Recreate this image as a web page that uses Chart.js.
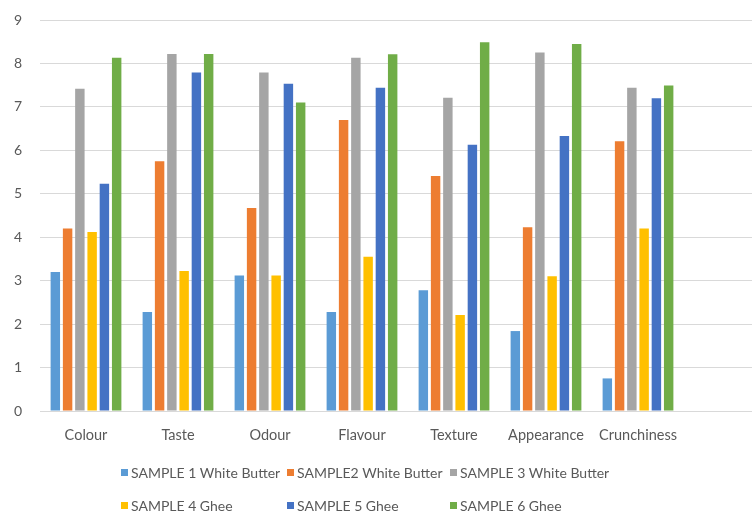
<!DOCTYPE html>
<html>
<head>
<meta charset="utf-8">
<script src="https://cdn.jsdelivr.net/npm/chart.js@4.4.0/dist/chart.umd.min.js"></script>
<style>
  html, body { margin: 0; padding: 0; background: #fff; overflow: hidden; }
  #wrap { width: 780px; height: 516px; }
</style>
</head>
<body>
<div id="wrap"><canvas id="chart"></canvas></div>
<script>
const categories = ['Colour', 'Taste', 'Odour', 'Flavour', 'Texture', 'Appearance', 'Crunchiness', ''];
const seriesNames = [
  'SAMPLE 1 White Butter', 'SAMPLE2 White Butter', 'SAMPLE 3 White Butter',
  'SAMPLE 4 Ghee', 'SAMPLE 5 Ghee', 'SAMPLE 6 Ghee'
];
const sample1 = [3.2, 2.28, 3.12, 2.28, 2.78, 1.84, 0.75];
const sample2 = [4.2, 5.75, 4.67, 6.7, 5.41, 4.23, 6.21];
const sample3 = [7.42, 8.22, 7.79, 8.13, 7.21, 8.25, 7.44];
const sample4 = [4.12, 3.22, 3.12, 3.55, 2.21, 3.1, 4.2];
const sample5 = [5.23, 7.79, 7.53, 7.44, 6.13, 6.33, 7.2];
const sample6 = [8.13, 8.22, 7.1, 8.21, 8.49, 8.45, 7.49];
const yTicks = [0, 1, 2, 3, 4, 5, 6, 7, 8, 9];

const colors = ['#5B9BD5', '#ED7D31', '#A5A5A5', '#FFC000', '#4472C4', '#70AD47'];
const values = [sample1, sample2, sample3, sample4, sample5, sample6];

const textColor = '#595959';
const fontFamily = 'Lato, "Noto Sans", sans-serif';

// legend drawn as a 3 x 2 grid like the Excel original
const gridLegend = {
  id: 'gridLegend',
  afterDraw(chart) {
    const ctx = chart.ctx;
    const colX = [121, 287, 450];
    const rowY = [473, 506];
    ctx.save();
    ctx.font = '14px ' + fontFamily;
    ctx.textBaseline = 'middle';
    ctx.textAlign = 'left';
    chart.data.datasets.forEach((ds, i) => {
      const x = colX[i % 3];
      const y = rowY[Math.floor(i / 3)];
      ctx.fillStyle = ds.backgroundColor;
      ctx.fillRect(x, y - 4, 7, 7);
      ctx.fillStyle = textColor;
      ctx.fillText(ds.label, x + 10, y);
    });
    ctx.restore();
  }
};

const datasets = seriesNames.map((name, i) => ({
  label: name,
  data: values[i],
  backgroundColor: colors[i],
  borderWidth: 0,
  barPercentage: 0.77,
  categoryPercentage: 0.8
}));

new Chart(document.getElementById('chart'), {
  type: 'bar',
  data: { labels: categories, datasets: datasets },
  options: {
    responsive: true,
    maintainAspectRatio: false,
    animation: false,
    layout: { padding: { left: 0, right: 4, top: 20, bottom: 0 } },
    plugins: {
      legend: { display: false },
      tooltip: { enabled: false }
    },
    scales: {
      x: {
        afterFit: axis => { axis.height = 105; },
        grid: { display: false },
        border: { color: '#d9d9d9', width: 1 },
        ticks: {
          color: textColor,
          font: { family: fontFamily, size: 14.5 },
          padding: 8,
          maxRotation: 0,
          autoSkip: false
        }
      },
      y: {
        min: 0,
        max: 9,
        afterBuildTicks: axis => { axis.ticks = yTicks.map(v => ({ value: v })); },
        afterFit: axis => {
          axis.width = 40;
          axis.paddingTop = 0;
          axis.paddingBottom = 0;
        },
        grid: { color: '#d9d9d9', lineWidth: 1, drawTicks: false },
        border: { display: false },
        ticks: {
          color: textColor,
          font: { family: fontFamily, size: 14 },
          padding: 18
        }
      }
    }
  },
  plugins: [gridLegend]
});
</script>
</body>
</html>
